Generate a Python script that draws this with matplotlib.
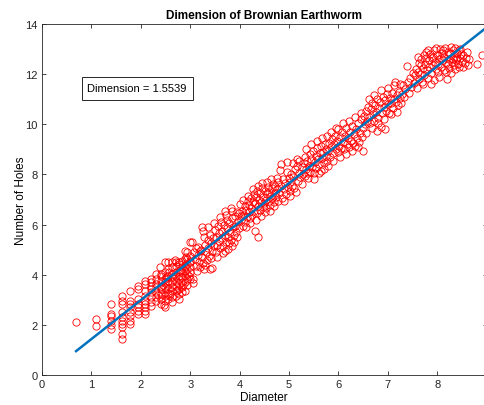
import numpy as np
import matplotlib
matplotlib.use('Agg')
import matplotlib.pyplot as plt
from matplotlib.patches import Rectangle

plt.rcParams['font.family'] = ['Liberation Sans', 'DejaVu Sans']

# ln(diameter) columns at small sizes
col_x = [0.69, 1.10, 1.39, 1.61, 1.79, 1.95, 2.08, 2.20, 2.30,
         2.40, 2.48, 2.56, 2.64, 2.71, 2.77, 2.83, 2.89, 2.94, 3.00]
col_y = [
    [2.10],
    [2.23, 1.97],
    [2.83, 2.43, 2.36, 2.17, 1.99, 1.83],
    [3.16, 2.96, 2.83, 2.50, 2.30, 2.17, 2.03, 1.90, 1.64, 1.44],
    [3.36, 2.96, 2.83, 2.70, 2.50, 2.36, 2.17, 2.03],
    [3.56, 3.43, 3.03, 2.83, 2.70, 2.56, 2.43],
    [3.76, 3.63, 3.36, 3.16, 2.96, 2.83, 2.70, 2.56, 2.43],
    [3.83, 3.70, 3.56, 3.43, 3.30, 3.10, 2.90, 2.76],
    [4.03, 3.83, 3.63, 3.50, 3.30, 3.10, 2.96],
    [4.03, 3.96, 3.76, 3.56, 3.43, 3.23, 3.03, 2.83],
    [4.50, 4.10, 3.83, 3.70, 3.50, 3.30, 3.16, 2.96, 2.70],
    [4.50, 4.23, 3.96, 3.76, 3.63, 3.43, 3.23, 3.03],
    [4.52, 4.30, 4.03, 3.90, 3.70, 3.50, 3.36, 3.10, 2.90],
    [4.50, 4.36, 4.10, 3.96, 3.76, 3.56, 3.36, 3.16],
    [4.50, 4.43, 4.16, 3.96, 3.83, 3.63, 3.43, 3.23, 3.03],
    [4.56, 4.30, 4.10, 3.90, 3.70, 3.50, 3.30],
    [4.96, 4.63, 4.36, 4.16, 3.96, 3.70, 3.36],
    [4.89, 4.63, 4.43, 4.23, 4.03, 3.83, 3.60],
    [5.30, 4.76, 4.50, 4.30, 4.10, 3.83],
]

# larger diameters, individual points
big_pts = [
    (3.04, 5.30), (3.06, 3.83), (3.06, 3.67), (3.08, 4.90), (3.10, 4.62), (3.11, 4.35),
    (3.13, 4.15), (3.15, 5.10), (3.16, 4.80), (3.18, 4.50), (3.20, 4.30), (3.21, 5.00),
    (3.23, 5.89), (3.24, 4.70), (3.26, 4.45), (3.27, 4.23), (3.27, 5.50), (3.29, 5.20),
    (3.31, 4.90), (3.33, 4.60), (3.35, 5.40), (3.36, 5.05), (3.38, 4.75), (3.40, 4.23),
    (3.41, 5.60), (3.43, 5.25), (3.44, 4.26), (3.45, 4.95), (3.47, 5.45), (3.49, 5.15),
    (3.50, 5.80), (3.52, 4.90), (3.53, 5.50), (3.55, 5.20), (3.56, 5.95), (3.58, 5.65),
    (3.59, 5.35), (3.61, 5.05), (3.62, 6.10), (3.64, 5.75), (3.65, 5.45), (3.67, 5.15),
    (3.68, 6.00), (3.70, 6.55), (3.70, 4.96), (3.71, 5.60), (3.72, 5.30), (3.74, 6.20),
    (3.75, 5.85), (3.77, 5.03), (3.77, 5.50), (3.79, 6.05), (3.80, 5.70), (3.82, 5.40),
    (3.84, 6.55), (3.84, 5.16), (3.85, 6.25), (3.87, 5.90), (3.88, 5.60), (3.90, 6.35),
    (3.91, 5.95), (3.93, 5.70), (3.94, 6.49), (3.96, 6.15), (3.98, 5.85), (3.99, 6.45),
    (4.01, 6.82), (4.03, 6.20), (4.04, 6.55), (4.06, 5.95), (4.08, 6.40), (4.10, 6.75),
    (4.11, 6.10), (4.13, 6.60), (4.15, 6.30), (4.16, 6.95), (4.18, 6.50), (4.20, 6.80),
    (4.21, 6.25), (4.23, 7.05), (4.24, 6.65), (4.26, 6.40), (4.27, 6.90), (4.29, 7.20),
    (4.30, 6.55), (4.31, 5.76), (4.32, 6.85), (4.34, 7.10), (4.35, 6.45), (4.36, 7.35),
    (4.38, 5.49), (4.38, 6.75), (4.39, 7.00), (4.41, 6.60), (4.42, 7.25), (4.44, 6.90),
    (4.45, 7.45), (4.47, 6.70), (4.48, 7.10), (4.50, 6.85), (4.51, 7.35), (4.53, 7.00),
    (4.54, 6.65), (4.56, 7.20), (4.57, 7.50), (4.59, 6.95), (4.60, 7.30), (4.62, 6.80),
    (4.63, 7.15), (4.65, 7.45), (4.66, 7.05), (4.68, 7.60), (4.69, 6.90), (4.71, 7.25),
    (4.72, 7.55), (4.74, 7.10), (4.75, 7.40), (4.77, 6.95), (4.78, 7.70),
    (4.80, 7.25), (4.82, 8.19), (4.83, 7.55), (4.85, 7.05), (4.87, 7.80), (4.89, 7.40),
    (4.91, 7.65), (4.93, 7.20), (4.95, 8.08), (4.97, 7.50), (4.99, 7.85), (5.01, 7.35),
    (5.03, 7.70), (5.05, 8.02), (5.07, 7.55), (5.09, 7.90), (5.11, 7.45), (5.13, 8.20),
    (5.16, 8.35), (5.16, 8.62), (5.18, 7.75), (5.20, 8.05), (5.23, 7.90), (5.26, 8.30),
    (5.28, 8.00),
    (5.30, 8.45), (5.32, 7.95), (5.33, 8.70), (5.35, 8.20), (5.37, 8.55), (5.38, 7.85),
    (5.40, 8.35), (5.42, 8.80), (5.43, 8.10), (5.45, 8.60), (5.47, 8.30), (5.49, 8.95),
    (5.50, 8.05), (5.52, 8.50), (5.54, 8.75), (5.55, 8.25), (5.57, 9.05), (5.59, 8.60),
    (5.60, 8.40), (5.62, 8.85), (5.64, 8.15), (5.65, 9.15), (5.67, 8.65), (5.69, 8.90),
    (5.70, 8.45), (5.72, 9.20), (5.74, 8.75), (5.75, 9.00), (5.77, 8.55), (5.79, 8.95),
    (5.81, 9.25), (5.83, 8.70), (5.85, 9.10), (5.87, 9.40), (5.89, 8.85), (5.91, 9.20),
    (5.93, 9.55), (5.95, 9.00), (5.97, 9.35), (5.99, 8.90), (6.00, 9.81), (6.02, 9.15),
    (6.04, 9.50), (6.06, 9.05), (6.08, 9.70), (6.10, 9.30), (6.12, 9.00), (6.14, 9.55),
    (6.16, 9.85), (6.18, 9.20), (6.20, 9.45), (6.22, 9.10), (6.24, 9.70), (6.26, 9.35),
    (6.28, 9.95), (6.30, 9.25), (6.32, 9.60), (6.34, 9.15), (6.36, 9.80), (6.38, 9.45),
    (6.40, 10.05), (6.42, 9.30), (6.44, 9.65), (6.46, 10.20), (6.48, 9.50), (6.50, 8.94),
    (6.50, 9.85),
    (6.52, 10.35), (6.54, 10.00), (6.56, 10.55), (6.58, 10.15), (6.60, 10.70), (6.62, 10.30),
    (6.64, 10.05), (6.66, 10.60), (6.68, 10.85), (6.70, 10.40), (6.72, 10.15), (6.74, 10.75),
    (6.76, 10.50), (6.78, 9.75), (6.79, 11.00), (6.81, 10.25), (6.83, 10.65), (6.85, 10.90),
    (6.86, 9.90), (6.88, 10.45), (6.90, 11.10), (6.92, 10.70), (6.94, 9.80), (6.95, 10.95),
    (6.97, 10.55), (6.99, 11.20), (7.01, 10.80), (7.03, 10.45), (7.05, 11.05), (7.07, 10.85),
    (7.09, 11.25), (7.11, 10.65), (7.13, 11.00), (7.15, 11.70), (7.16, 10.90), (7.18, 11.15),
    (7.20, 10.75), (7.22, 11.30), (7.24, 11.05), (7.26, 10.85), (7.28, 11.20),
    (7.31, 11.55), (7.33, 11.10), (7.35, 11.40), (7.38, 12.34), (7.40, 11.70), (7.42, 11.25),
    (7.45, 11.85), (7.47, 11.50), (7.50, 12.05), (7.52, 11.65), (7.55, 11.95), (7.57, 12.20),
    (7.59, 11.45),
    (7.61, 12.10), (7.63, 11.80), (7.64, 12.45), (7.66, 12.00), (7.68, 12.60), (7.69, 11.70),
    (7.71, 12.25), (7.73, 12.75), (7.74, 11.95), (7.76, 12.40), (7.78, 12.90), (7.79, 12.15),
    (7.81, 11.85), (7.83, 12.55), (7.84, 12.30), (7.86, 12.80), (7.88, 12.05), (7.89, 12.65),
    (7.91, 12.35), (7.93, 11.75), (7.94, 12.95), (7.96, 12.50), (7.98, 12.20), (7.99, 12.75),
    (8.01, 12.40), (8.03, 11.90), (8.04, 12.60), (8.06, 13.00), (8.08, 12.30), (8.09, 12.85),
    (8.11, 12.55), (8.13, 12.15), (8.14, 12.70), (8.16, 13.05), (8.18, 12.45), (8.19, 11.80),
    (8.21, 12.90), (8.23, 12.60), (8.24, 12.25), (8.26, 12.80), (8.28, 13.10), (8.29, 12.50),
    (8.31, 12.95), (8.33, 12.35), (8.34, 12.70), (8.36, 13.05), (8.38, 12.55), (8.40, 12.85),
    (8.42, 12.40), (8.44, 12.95), (8.46, 12.65), (8.48, 12.80), (8.50, 12.50),
    (8.53, 12.75), (8.56, 12.45), (8.60, 12.90), (8.64, 12.60), (8.81, 12.41), (8.90, 12.76),
]

# scattered extra points that widen the band
extra_pts = [
    (2.35, 3.20), (2.38, 4.30), (2.44, 3.60), (2.46, 2.80), (2.52, 3.90), (2.58, 4.10),
    (2.60, 3.25), (2.67, 3.85), (2.69, 4.60), (2.74, 3.40), (2.80, 4.20), (2.86, 3.60),
    (2.91, 4.70), (2.97, 3.95), (2.99, 4.55),
    (3.12, 5.05), (3.19, 4.95), (3.25, 5.75), (3.30, 4.40), (3.37, 5.90), (3.42, 4.65),
    (3.48, 6.05), (3.54, 4.70), (3.60, 6.30), (3.66, 4.85), (3.73, 6.40), (3.78, 5.25),
    (3.83, 6.65), (3.89, 5.30), (3.95, 5.50),
    (4.02, 6.35), (4.07, 7.00), (4.12, 5.90), (4.17, 7.15), (4.22, 6.05), (4.28, 7.40),
    (4.33, 6.20), (4.37, 7.55), (4.43, 6.35), (4.46, 7.65), (4.52, 6.50), (4.55, 7.70),
    (4.61, 6.55), (4.64, 7.80), (4.70, 6.75), (4.76, 7.85),
    (4.84, 8.40), (4.90, 6.95), (4.96, 8.50), (5.02, 7.15), (5.08, 8.45), (5.14, 7.30),
    (5.21, 8.55), (5.27, 7.60),
    (5.34, 9.00), (5.39, 8.05), (5.44, 9.20), (5.51, 7.80), (5.56, 9.35), (5.61, 8.05),
    (5.66, 9.45), (5.71, 8.20), (5.76, 9.55), (5.78, 8.35),
    (5.84, 9.70), (5.90, 8.55), (5.96, 9.85), (6.03, 8.70), (6.09, 10.05), (6.15, 8.80),
    (6.21, 10.15), (6.27, 8.95), (6.33, 10.30), (6.39, 9.10), (6.45, 10.45),
    (6.55, 9.65), (6.61, 11.00), (6.67, 9.85), (6.73, 11.15), (6.80, 10.05), (6.87, 11.35),
    (6.93, 10.20), (7.00, 11.45), (7.06, 10.40), (7.12, 11.55), (7.19, 10.50), (7.25, 11.60),
    (7.62, 12.70), (7.67, 12.35), (7.72, 11.60), (7.77, 12.65), (7.82, 12.95), (7.87, 11.60),
    (7.92, 12.70), (7.97, 13.05), (8.02, 12.10), (8.07, 12.65), (8.12, 12.95), (8.17, 12.10),
    (8.22, 12.40), (8.27, 12.05), (8.32, 12.60), (8.37, 12.20), (8.41, 12.65), (8.45, 12.30),
    (8.47, 13.00), (8.52, 12.30), (8.58, 12.65), (8.62, 12.35),
]

dimension = 1.5539
intercept = -0.12
fit_x = [0.69, 9.0]

pts = big_pts + extra_pts
diameter = [x for x, ys in zip(col_x, col_y) for _ in ys] + [p[0] for p in pts]
holes = [y for ys in col_y for y in ys] + [p[1] for p in pts]

fig = plt.figure(figsize=(4.84, 4.06), dpi=100)
ax = fig.add_axes([0.0868, 0.0739, 0.9186, 0.8645])

ax.plot(diameter, holes, 'o', mfc='none', mec='#ff0000', ms=5.2, mew=0.6)
fit_y = [dimension * x + intercept for x in fit_x]
ax.plot(fit_x, fit_y, color='#0072BD', lw=1.8)

ax.set_xlim(0, 9)
ax.set_ylim(0, 14)
ax.set_xticks(range(0, 10))
ax.set_yticks(range(0, 15, 2))
ax.tick_params(direction='in', top=True, right=True, length=3, width=0.6,
               colors='#262626', labelsize=8, pad=3)
for s in ax.spines.values():
    s.set_color('#262626')
    s.set_linewidth(0.6)

ax.set_title('Dimension of Brownian Earthworm', fontsize=8.5, fontweight='bold', pad=4)
ax.set_xlabel('Diameter', fontsize=8.5, labelpad=1)
ax.set_ylabel('Number of Holes', fontsize=8.5, labelpad=-1)

ax.add_patch(Rectangle((0.81, 10.97), 2.25, 0.92, fill=False, ec='#262626', lw=0.7))
ax.text(0.92, 11.43, 'Dimension = %.4f' % dimension, fontsize=8, va='center')

fig.savefig('out.png', dpi=100)
